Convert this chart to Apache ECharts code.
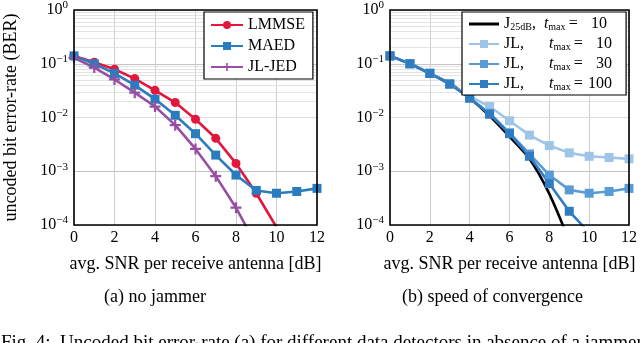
<!DOCTYPE html>
<html>
<head>
<meta charset="utf-8">
<script src="https://cdn.jsdelivr.net/npm/echarts@6/dist/echarts.min.js"></script>
<style>
  html, body { margin: 0; padding: 0; background: #fff; }
  #chart { width: 640px; height: 343px; }
</style>
</head>
<body>
<div id="chart"></div>
<script>
// SNR per receive antenna [dB]
var snr = [0, 1, 2, 3, 4, 5, 6, 7, 8, 9, 10, 11, 12];
// (a) no jammer
var lmmse = [0.14, 0.107, 0.079, 0.053, 0.032, 0.019, 0.0093, 0.0041, 0.0014, 0.00039, 0.000091];
var maed  = [0.14, 0.10, 0.066, 0.040, 0.022, 0.011, 0.005, 0.002, 0.00085, 0.00044, 0.00039, 0.00042, 0.00048];
var jljed = [0.129, 0.085, 0.051, 0.029, 0.016, 0.0072, 0.0026, 0.00081, 0.00021, 0.000042];
// (b) speed of convergence
var j25   = [0.14, 0.10, 0.066, 0.043, 0.023, 0.0107, 0.0044, 0.0017, 0.00038, 0.00005];
var jl10  = [0.14, 0.10, 0.068, 0.042, 0.025, 0.016, 0.0087, 0.0047, 0.003, 0.0022, 0.0019, 0.0018, 0.0017];
var jl30  = [0.14, 0.10, 0.066, 0.042, 0.023, 0.012, 0.0052, 0.0021, 0.00085, 0.00045, 0.00039, 0.00042, 0.00048];
var jl100 = [0.14, 0.10, 0.066, 0.042, 0.023, 0.0115, 0.005, 0.0019, 0.00059, 0.00018, 0.000072];

var serif = 'Liberation Serif';
var colRed = '#e3173c', colBlue = '#2b7bbf', colPurple = '#984ea3';
var colL = '#9ec5e8', colM = '#5b9bd5', colD = '#2f7cc1';
var plusPath = 'path://M4,0h2v4h4v2h-4v4h-2v-4h-4v-2h4z';

function pairs(arr) {
    var out = [];
    for (var i = 0; i < arr.length; i++) out.push([snr[i], arr[i]]);
    return out;
}
// minor grid lines 2..9 x 10^k
var minorLines = [];
for (var k = -4; k < 0; k++) {
    for (var m = 2; m <= 9; m++) minorLines.push({yAxis: m * Math.pow(10, k)});
}
function minorMark() {
    return {
        silent: true, symbol: 'none', z: 1, animation: false,
        label: {show: false},
        lineStyle: {color: '#dcdcdc', width: 0.8, type: 'solid'},
        data: minorLines
    };
}
function xAx(idx) {
    return {
        type: 'value', gridIndex: idx, min: 0, max: 12, interval: 2,
        name: 'avg. SNR per receive antenna [dB]', nameLocation: 'middle', nameGap: 30,
        nameTextStyle: {fontFamily: serif, fontSize: 18, color: '#000'},
        axisLine: {show: false}, axisTick: {show: false},
        axisLabel: {fontFamily: serif, fontSize: 16, color: '#000', margin: 5},
        splitLine: {show: true, lineStyle: {color: '#cfcfcf', width: 1}}
    };
}
function yAx(idx, title) {
    return {
        type: 'log', logBase: 10, gridIndex: idx, min: 0.0001, max: 1,
        name: title, nameLocation: 'middle', nameGap: 54,
        nameTextStyle: {fontFamily: serif, fontSize: 18, color: '#000'},
        axisLine: {show: false}, axisTick: {show: false},
        axisLabel: {
            margin: 6,
            formatter: function (v) {
                var e = Math.round(Math.log(v) / Math.LN10);
                return '{b|10}{s|' + (e === 0 ? '0' : '\u2212' + (-e)) + '}';
            },
            rich: {
                b: {fontFamily: serif, fontSize: 16, color: '#000', lineHeight: 20},
                s: {fontFamily: serif, fontSize: 11, color: '#000', verticalAlign: 'top', lineHeight: 12}
            }
        },
        splitLine: {show: true, lineStyle: {color: '#c4c4c4', width: 1}}
    };
}
function line(name, data, color, sym, size, xi, extra) {
    var s = {
        name: name, type: 'line', xAxisIndex: xi, yAxisIndex: xi,
        data: pairs(data), color: color,
        symbol: sym, symbolSize: size, showSymbol: sym !== 'none',
        lineStyle: {width: 2.6, color: color},
        itemStyle: {color: color},
        clip: true, animation: false, z: 3
    };
    for (var key in extra) s[key] = extra[key];
    return s;
}

var rightLabels = {
    'J25': '{a|J}{s|25dB}{c|,}{t|t}{s|max}{a|\u2009=\u2009}{n|10}',
    'JL10': '{w|JL,}{t|t}{s|max}{a|\u2009=\u2009}{n|10}',
    'JL30': '{w|JL,}{t|t}{s|max}{a|\u2009=\u2009}{n|30}',
    'JL100': '{w|JL,}{t|t}{s|max}{a|\u2009=\u2009}{n|100}'
};

var chart = echarts.init(document.getElementById('chart'));
chart.setOption({
    backgroundColor: '#fff',
    animation: false,
    grid: [
        {left: 74, top: 5, width: 243, height: 220, show: true, borderColor: '#000', borderWidth: 1.6, z: 4},
        {left: 390, top: 5, width: 243, height: 220, show: true, borderColor: '#000', borderWidth: 1.6, z: 4}
    ],
    xAxis: [xAx(0), xAx(1)],
    yAxis: [yAx(0, 'uncoded bit error-rate (BER)'), yAx(1, '')],
    legend: [
        {
            data: ['LMMSE', 'MAED', 'JL-JED'],
            orient: 'vertical', left: 204, top: 12,
            backgroundColor: '#fff', borderColor: '#000', borderWidth: 1.2, borderRadius: 0,
            padding: [5, 8, 4, 6], itemGap: 5, itemWidth: 32, itemHeight: 10,
            textStyle: {fontFamily: serif, fontSize: 16, color: '#000', lineHeight: 16}
        },
        {
            data: [
                {name: 'J25', icon: 'path://M0,0h30v3h-30z', itemStyle: {color: '#000'}},
                'JL10', 'JL30', 'JL100'
            ],
            orient: 'vertical', left: 462, top: 12,
            backgroundColor: '#fff', borderColor: '#000', borderWidth: 1.2, borderRadius: 0,
            padding: [4, 14, 3, 6], itemGap: 4, itemWidth: 30, itemHeight: 10,
            formatter: function (name) { return rightLabels[name]; },
            textStyle: {
                fontFamily: serif, fontSize: 16, color: '#000',
                rich: {
                    a: {fontFamily: serif, fontSize: 16, color: '#000'},
                    c: {fontFamily: serif, fontSize: 16, color: '#000', width: 12},
                    w: {fontFamily: serif, fontSize: 16, color: '#000', width: 45},
                    t: {fontFamily: serif, fontSize: 16, fontStyle: 'italic', color: '#000'},
                    s: {fontFamily: serif, fontSize: 10, color: '#000', verticalAlign: 'bottom'},
                    n: {fontFamily: serif, fontSize: 16, color: '#000', width: 26, align: 'right'}
                }
            }
        }
    ],
    series: [
        line('LMMSE', lmmse, colRed, 'circle', 9, 0, {markLine: minorMark()}),
        line('MAED', maed, colBlue, 'rect', 9, 0),
        line('JL-JED', jljed, colPurple, plusPath, 11, 0),
        line('J25', j25, '#000', 'none', 0, 1, {smooth: 0.3, markLine: minorMark()}),
        line('JL10', jl10, colL, 'rect', 9, 1),
        line('JL30', jl30, colM, 'rect', 9, 1),
        line('JL100', jl100, colD, 'rect', 9, 1)
    ],
    graphic: [
        {type: 'text', left: 104, top: 288, style: {text: '(a) no jammer', font: '18px "Liberation Serif"', fill: '#000'}},
        {type: 'text', left: 402, top: 288, style: {text: '(b) speed of convergence', font: '18px "Liberation Serif"', fill: '#000'}},
        {type: 'text', left: 1, top: 334, style: {text: 'Fig. 4:  Uncoded bit error-rate (a) for different data detectors in absence of a jammer and', font: '19px "Liberation Serif"', fill: '#000'}}
    ]
});
</script>
</body>
</html>
